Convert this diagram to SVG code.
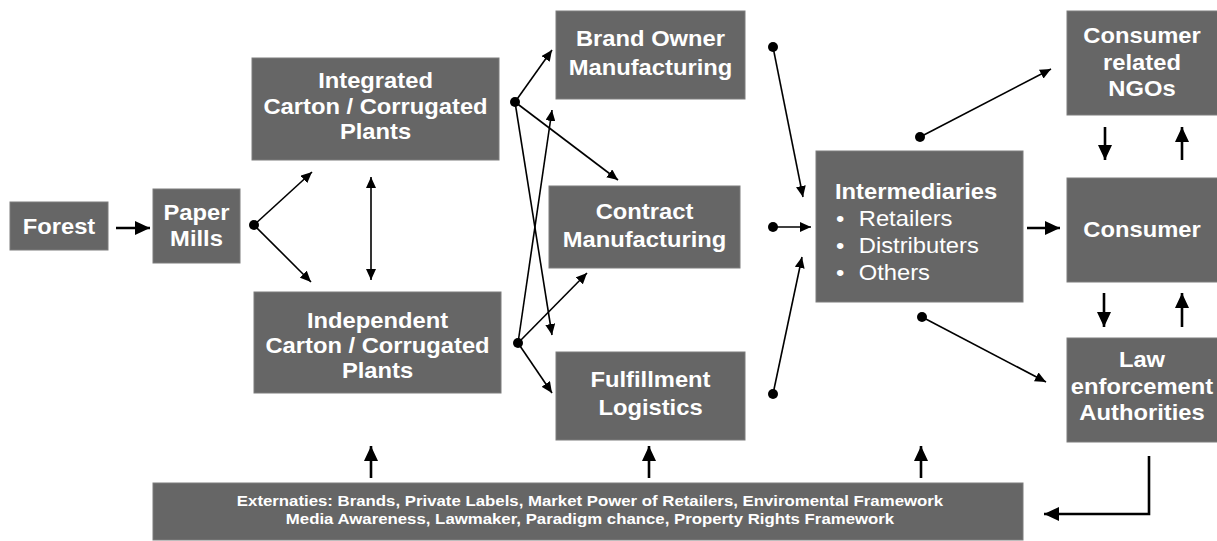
<svg xmlns="http://www.w3.org/2000/svg" width="1217" height="541" viewBox="0 0 1217 541">
<style>
.box{fill:#666666;stroke:#7c7c7c;stroke-width:1}
.t{font-family:"Liberation Sans",Arial,sans-serif;font-weight:bold;font-size:22px;fill:#ffffff;text-anchor:middle}
.r{font-family:"Liberation Sans",Arial,sans-serif;font-size:22px;fill:#ffffff}
.ex{font-family:"Liberation Sans",Arial,sans-serif;font-weight:bold;font-size:14px;fill:#ffffff;text-anchor:middle}
.thin{stroke:#000;stroke-width:1.6;fill:none}
.thick{stroke:#000;stroke-width:2.6;fill:none}
.dot{fill:#000}
</style>
<defs>
<marker id="ah" markerUnits="userSpaceOnUse" markerWidth="12" markerHeight="10" refX="11" refY="5" orient="auto">
<path d="M0,0 L11,5 L0,10 Z" fill="#000"/>
</marker>
<marker id="ahs" markerUnits="userSpaceOnUse" markerWidth="12" markerHeight="10" refX="1" refY="5" orient="auto">
<path d="M12,0 L1,5 L12,10 Z" fill="#000"/>
</marker>
<marker id="AH" markerUnits="userSpaceOnUse" markerWidth="16" markerHeight="14" refX="15" refY="7" orient="auto">
<path d="M0,0 L15,7 L0,14 Z" fill="#000"/>
</marker>
</defs>

<g id="forest"><rect class="box" x="10" y="202" width="98" height="48"/>
<g transform="translate(59,0) scale(1.08,1)"><text class="t" x="0" y="234">Forest</text></g></g>

<g id="paper-mills"><rect class="box" x="153" y="189" width="87" height="74"/>
<g transform="translate(196.5,0) scale(1.08,1)"><text class="t" x="0" y="220">Paper</text><text class="t" x="0" y="246">Mills</text></g></g>

<g id="integrated"><rect class="box" x="252" y="58" width="247" height="102"/>
<g transform="translate(375.5,0) scale(1.08,1)"><text class="t" x="0" y="88">Integrated</text><text class="t" x="0" y="114">Carton / Corrugated</text><text class="t" x="0" y="139">Plants</text></g></g>

<g id="independent"><rect class="box" x="254" y="292" width="247" height="101"/>
<g transform="translate(377.5,0) scale(1.08,1)"><text class="t" x="0" y="328">Independent</text><text class="t" x="0" y="353">Carton / Corrugated</text><text class="t" x="0" y="378">Plants</text></g></g>

<g id="brand-owner"><rect class="box" x="556" y="11" width="189" height="88"/>
<g transform="translate(650.5,0) scale(1.08,1)"><text class="t" x="0" y="46">Brand Owner</text><text class="t" x="0" y="75">Manufacturing</text></g></g>

<g id="contract"><rect class="box" x="549" y="186" width="191" height="82"/>
<g transform="translate(644.5,0) scale(1.08,1)"><text class="t" x="0" y="219">Contract</text><text class="t" x="0" y="247">Manufacturing</text></g></g>

<g id="fulfillment"><rect class="box" x="556" y="352" width="189" height="88"/>
<g transform="translate(650.5,0) scale(1.08,1)"><text class="t" x="0" y="387">Fulfillment</text><text class="t" x="0" y="415">Logistics</text></g></g>

<g id="intermediaries"><rect class="box" x="816" y="151" width="207" height="151"/>
<g transform="translate(835,0) scale(1.08,1)"><text class="t" x="0" y="199" style="text-anchor:start">Intermediaries</text>
<text class="r" x="1" y="226">•</text><text class="r" x="22" y="226">Retailers</text>
<text class="r" x="1" y="253">•</text><text class="r" x="22" y="253">Distributers</text>
<text class="r" x="1" y="280">•</text><text class="r" x="22" y="280">Others</text></g></g>

<g id="ngos"><rect class="box" x="1067" y="11" width="151" height="104"/>
<g transform="translate(1142,0) scale(1.08,1)"><text class="t" x="0" y="43">Consumer</text><text class="t" x="0" y="70">related</text><text class="t" x="0" y="96">NGOs</text></g></g>

<g id="consumer"><rect class="box" x="1067" y="178" width="151" height="104"/>
<g transform="translate(1142,0) scale(1.08,1)"><text class="t" x="0" y="237">Consumer</text></g></g>

<g id="law"><rect class="box" x="1067" y="338" width="151" height="104"/>
<g transform="translate(1142,0) scale(1.08,1)"><text class="t" x="0" y="367">Law</text><text class="t" x="0" y="394">enforcement</text><text class="t" x="0" y="420">Authorities</text></g></g>

<g id="externaties"><rect class="box" x="153" y="483" width="870" height="57"/>
<g transform="translate(590,0) scale(1.2,1)"><text class="ex" x="0" y="506">Externaties: Brands, Private Labels, Market Power of Retailers, Enviromental Framework</text><text class="ex" x="0" y="524">Media Awareness, Lawmaker, Paradigm chance, Property Rights Framework</text></g></g>

<g id="connectors">
<line class="thick" x1="116" y1="228" x2="150" y2="228" marker-end="url(#AH)"/>
<circle class="dot" cx="254" cy="225" r="5"/>
<line class="thin" x1="254" y1="225" x2="312" y2="172" marker-end="url(#ah)"/>
<line class="thin" x1="254" y1="225" x2="311" y2="282" marker-end="url(#ah)"/>
<line class="thin" x1="371" y1="177" x2="371" y2="280" marker-start="url(#ahs)" marker-end="url(#ah)"/>

<circle class="dot" cx="515" cy="102" r="5"/>
<line class="thin" x1="515" y1="102" x2="552" y2="50" marker-end="url(#ah)"/>
<line class="thin" x1="515" y1="102" x2="618" y2="180" marker-end="url(#ah)"/>
<line class="thin" x1="515" y1="102" x2="552" y2="335" marker-end="url(#ah)"/>

<circle class="dot" cx="518" cy="343" r="5"/>
<line class="thin" x1="518" y1="343" x2="552" y2="110" marker-end="url(#ah)"/>
<line class="thin" x1="518" y1="343" x2="587" y2="273" marker-end="url(#ah)"/>
<line class="thin" x1="518" y1="343" x2="552" y2="393" marker-end="url(#ah)"/>

<circle class="dot" cx="773" cy="47" r="5"/>
<line class="thin" x1="773" y1="47" x2="803" y2="197" marker-end="url(#ah)"/>
<circle class="dot" cx="773" cy="227" r="5"/>
<line class="thin" x1="773" y1="227" x2="811" y2="227" marker-end="url(#ah)"/>
<circle class="dot" cx="773" cy="394" r="5"/>
<line class="thin" x1="773" y1="394" x2="802" y2="257" marker-end="url(#ah)"/>

<line class="thick" x1="1027" y1="228" x2="1060" y2="228" marker-end="url(#AH)"/>

<circle class="dot" cx="920" cy="137" r="5"/>
<line class="thin" x1="920" y1="137" x2="1051" y2="69" marker-end="url(#ah)"/>
<circle class="dot" cx="922" cy="317" r="5"/>
<line class="thin" x1="922" y1="317" x2="1046" y2="382" marker-end="url(#ah)"/>

<line class="thick" x1="1105" y1="127" x2="1105" y2="160" marker-end="url(#AH)"/>
<line class="thick" x1="1182" y1="160" x2="1182" y2="127" marker-end="url(#AH)"/>
<line class="thick" x1="1104" y1="293" x2="1104" y2="327" marker-end="url(#AH)"/>
<line class="thick" x1="1182" y1="327" x2="1182" y2="293" marker-end="url(#AH)"/>

<line class="thick" x1="371" y1="478" x2="371" y2="446" marker-end="url(#AH)"/>
<line class="thick" x1="649" y1="478" x2="649" y2="446" marker-end="url(#AH)"/>
<line class="thick" x1="921" y1="478" x2="921" y2="446" marker-end="url(#AH)"/>

<polyline class="thick" points="1149,456 1149,514 1044,514" marker-end="url(#AH)"/>
</g>
</svg>
